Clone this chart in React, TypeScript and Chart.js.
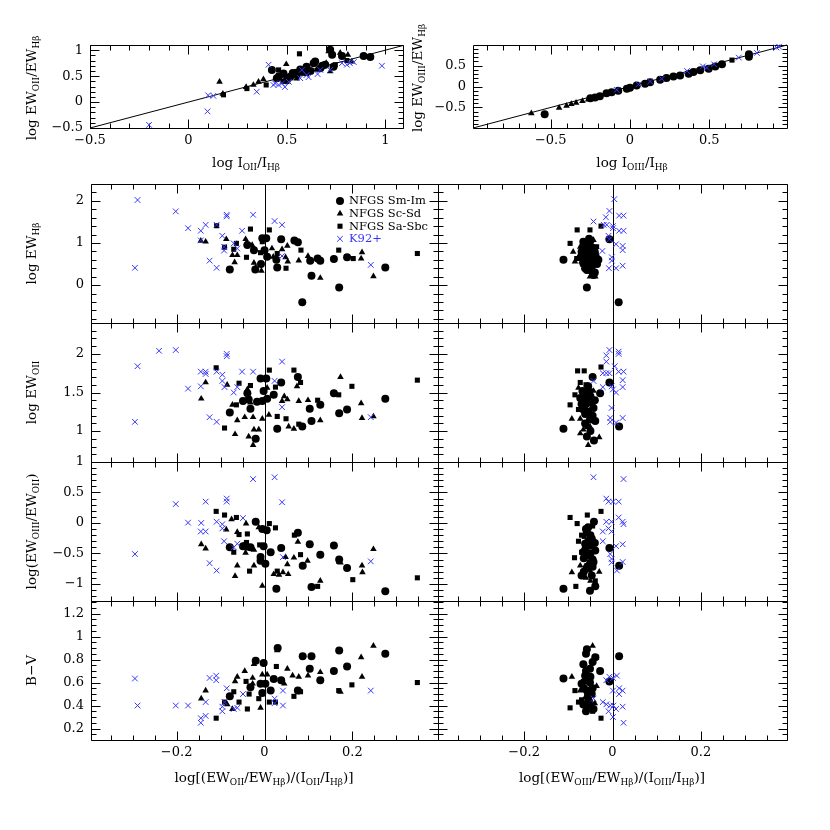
import React, { useEffect, useRef } from 'react';
import { Chart, registerables } from 'chart.js';
Chart.register(...registerables);

type P = [number, number];

// ---------- Top-left: log I_OII/I_Hb vs log EW_OII/EW_Hb ----------
const tlCircles: P[] = [[0.424,0.62],[0.449,0.46],[0.483,0.55],[0.517,0.49],[0.568,0.63],[0.60,0.68],[0.636,0.75],[0.644,0.78],[0.67,0.65],[0.695,0.72],[0.72,1.01],[0.73,0.91],[0.737,0.68],[0.78,0.89],[0.89,0.89],[0.924,0.87],[0.50,0.42],[0.55,0.52],[0.46,0.5],[0.53,0.56],[0.58,0.58],[0.62,0.6],[0.68,0.7]];
const tlTriangles: P[] = [[0.158,0.39],[0.175,0.16],[0.293,0.29],[0.33,0.33],[0.356,0.39],[0.381,0.44],[0.497,0.73],[0.534,0.55],[0.61,0.62],[0.712,0.98],[0.72,0.59],[0.771,0.95],[0.81,0.91],[0.83,0.78],[0.46,0.45],[0.65,0.62],[0.55,0.45],[0.7,0.75]];
const tlSquares: P[] = [[0.178,0.14],[0.297,0.26],[0.395,0.33],[0.458,0.62],[0.55,0.59],[0.564,0.93],[0.746,0.72],[0.805,0.80],[0.52,0.47],[0.48,0.40],[0.6,0.55]];
const tlCrosses: P[] = [[-0.20,-0.44],[0.097,-0.18],[0.10,0.13],[0.127,0.12],[0.347,0.20],[0.407,0.72],[0.432,0.33],[0.44,0.36],[0.458,0.33],[0.475,0.36],[0.49,0.29],[0.51,0.39],[0.568,0.46],[0.576,0.62],[0.60,0.52],[0.61,0.48],[0.656,0.54],[0.67,0.62],[0.72,0.62],[0.78,0.75],[0.805,0.72],[0.82,0.75],[0.84,0.77],[0.983,0.70]];

// ---------- Top-right: log I_OIII/I_Hb vs log EW_OIII/EW_Hb ----------
const trCircles: P[] = [[-0.538,-0.66],[-0.22,-0.26],[-0.19,-0.23],[-0.148,-0.16],[-0.116,-0.14],[-0.074,-0.10],[-0.02,-0.056],[0.042,0.024],[0.095,0.064],[0.127,0.10],[0.19,0.16],[0.274,0.24],[0.316,0.265],[0.37,0.305],[0.40,0.345],[0.443,0.385],[0.496,0.426],[0.538,0.48],[0.58,0.53],[0.75,0.71],[0.75,0.77],[-0.25,-0.28],[0.0,-0.03],[0.23,0.2]];
const trTriangles: P[] = [[-0.622,-0.64],[-0.447,-0.51],[-0.40,-0.46],[-0.37,-0.42],[-0.34,-0.39],[-0.30,-0.35],[-0.264,-0.31]];
const trSquares: P[] = [[-0.127,-0.15],[0.21,0.185],[0.643,0.63]];
const trCrosses: P[] = [[-0.084,-0.08],[0.053,0.05],[0.127,0.12],[0.20,0.185],[0.36,0.37],[0.46,0.48],[0.485,0.45],[0.53,0.53],[0.686,0.69],[0.80,0.80],[0.924,0.93],[0.94,0.95]];

// ---------- Row 1: log EW_Hb ----------
const r1lCircles: P[] = [[-0.079,0.37],[-0.021,0.37],[-0.008,0.5],[-0.005,1.11],[0.004,1.11],[0,0.83],[0.027,0.6],[0.029,0.42],[0.038,1.09],[0.068,1.06],[0.076,1.02],[0.104,0.58],[0.107,0.22],[0.121,0.63],[0.127,0.58],[0.158,0.62],[0.17,-0.06],[0.188,0.66],[0.086,-0.41],[0.275,0.42],[-0.024,0.83],[0.006,0.67],[-0.039,0.95]];
const r1lTriangles: P[] = [[-0.145,1.05],[-0.134,1.03],[-0.087,1.09],[-0.073,0.71],[-0.062,0.71],[-0.068,0.54],[-0.043,1.09],[-0.041,0.99],[-0.028,0.95],[-0.024,0.53],[-0.02,0.42],[-0.007,0.34],[0.017,0.87],[0.02,0.67],[0.04,0.85],[0.052,0.93],[0.053,0.56],[0.048,0.66],[0.078,0.58],[0.099,0.69],[0.127,0.17],[0.222,0.78],[0.22,0.63],[0.248,0.21]];
const r1lSquares: P[] = [[-0.109,1.41],[-0.091,0.9],[-0.07,0.85],[-0.064,0.99],[-0.041,0.66],[-0.032,1.33],[-0.005,1.03],[0.011,1.31],[-0.009,0.77],[0.049,0.4],[0.083,0.83],[0.169,0.83],[0.202,0.63],[0.348,0.75],[0.029,0.75]];
const r1lCrosses: P[] = [[-0.289,2.02],[-0.295,0.41],[-0.202,1.75],[-0.174,1.35],[-0.145,1.29],[-0.145,1.06],[-0.134,1.43],[-0.125,0.58],[-0.109,0.41],[-0.109,1.43],[-0.096,1.17],[-0.092,0.91],[-0.092,0.82],[-0.086,1.67],[-0.086,1.63],[-0.07,0.99],[-0.062,0.87],[-0.051,1.29],[-0.026,1.67],[0.023,1.52],[0.04,1.43],[0.04,0.69],[0.242,0.48]];

const r1rCircles: P[] = [[-0.111,0.60],[-0.058,-0.06],[0.014,-0.41],[-0.007,1.09],[-0.066,1.03],[-0.055,0.99],[-0.043,0.87],[-0.058,0.67],[-0.051,0.52],[-0.062,0.40],[-0.043,0.24],[-0.032,0.60],[-0.07,0.79],[-0.058,0.36],[-0.066,0.52],[-0.047,0.71],[-0.05,0.75],[-0.06,0.9],[-0.045,0.6],[-0.055,0.45],[-0.04,0.3],[-0.065,0.62],[-0.035,0.5],[-0.05,1.05],[-0.06,0.8],[-0.052,0.65],[-0.045,0.48],[-0.068,0.7],[-0.04,0.78],[-0.057,0.55],[-0.05,0.35],[-0.062,0.95],[-0.048,0.9],[-0.038,0.68],[-0.072,0.66],[-0.053,1.1]];
const r1rTriangles: P[] = [[-0.089,0.79],[-0.077,0.63],[-0.07,0.56],[-0.051,0.20],[-0.039,0.20],[-0.036,0.71],[-0.073,0.91],[-0.043,1.07],[-0.085,0.56],[-0.055,0.83],[-0.06,0.6],[-0.045,0.42],[-0.066,0.48],[-0.041,0.8]];
const r1rSquares: P[] = [[-0.080,1.31],[-0.051,1.31],[-0.096,0.99],[-0.026,1.40],[-0.081,0.63],[-0.062,0.83],[-0.036,0.91],[-0.047,0.44],[-0.055,0.7],[-0.07,0.87]];
const r1rCrosses: P[] = [[0.004,2.04],[-0.007,1.76],[-0.015,1.61],[-0.043,1.51],[-0.02,1.43],[-0.013,1.43],[0.001,1.40],[0.001,1.35],[0.015,1.65],[0.025,1.65],[0.015,1.29],[0.025,1.29],[-0.009,1.17],[-0.007,1.09],[0.008,0.97],[0.023,0.93],[0.023,0.83],[-0.023,0.81],[-0.0015,0.66],[-0.0015,0.58],[-0.008,0.40],[0.008,0.40],[0.023,0.46]];

// ---------- Row 2: log EW_OII ----------
const r2lCircles: P[] = [[-0.079,1.24],[-0.049,1.39],[-0.039,1.49],[-0.036,1.41],[-0.02,0.90],[-0.009,1.68],[0.004,1.68],[-0.002,1.52],[-0.005,1.39],[0.021,1.47],[0.029,1.03],[0.038,1.63],[0.076,1.70],[0.103,1.29],[0.107,1.13],[0.086,1.06],[0.127,1.34],[0.158,1.49],[0.17,1.23],[0.188,1.28],[0.275,1.42],[-0.032,1.29],[-0.017,1.38],[0.006,1.42]];
const r2lTriangles: P[] = [[-0.144,1.42],[-0.134,1.63],[-0.085,1.6],[-0.073,1.34],[-0.067,0.96],[-0.062,1.14],[-0.045,1.18],[-0.039,1.54],[-0.032,1.37],[-0.026,1.18],[-0.024,1.02],[-0.013,1.02],[-0.036,0.93],[-0.026,0.82],[-0.005,1.16],[0.006,1.56],[0.01,1.21],[0.04,1.39],[0.045,1.45],[0.052,1.41],[0.055,1.06],[0.067,1.03],[0.074,1.58],[0.078,1.39],[0.099,1.40],[0.127,1.14],[0.173,1.70],[0.22,1.36],[0.222,1.17],[0.248,1.19]];
const r2lSquares: P[] = [[-0.11,1.82],[-0.091,1.04],[-0.064,1.34],[-0.058,1.62],[-0.032,1.59],[0.011,1.79],[0.025,1.57],[0.029,1.19],[0.049,1.16],[0.067,1.79],[0.082,1.63],[0.078,1.09],[0.121,1.40],[0.169,1.47],[0.199,1.58],[0.348,1.66]];
const r2lCrosses: P[] = [[-0.289,1.84],[-0.295,1.12],[-0.24,2.04],[-0.202,2.05],[-0.174,1.55],[-0.145,1.58],[-0.145,1.77],[-0.134,1.77],[-0.134,1.74],[-0.125,1.18],[-0.109,1.12],[-0.109,1.77],[-0.096,1.73],[-0.096,1.65],[-0.091,1.57],[-0.086,2.0],[-0.086,1.97],[-0.07,1.5],[-0.062,1.57],[-0.051,1.77],[-0.026,1.77],[0.023,1.65],[0.04,1.9],[0.04,1.31],[0.242,1.18]];

const r2rCircles: P[] = [[-0.111,1.03],[0.015,1.06],[-0.007,1.63],[-0.045,1.70],[-0.028,1.49],[-0.042,0.88],[-0.058,1.50],[-0.047,1.37],[-0.066,1.28],[-0.051,1.15],[-0.039,1.13],[-0.058,1.41],[-0.073,1.43],[-0.055,1.58],[-0.062,1.22],[-0.043,1.30],[-0.06,1.35],[-0.05,1.45],[-0.068,1.52],[-0.055,1.25],[-0.045,1.2],[-0.062,1.1],[-0.05,1.0],[-0.058,0.93],[-0.04,1.4],[-0.07,1.35]];
const r2rTriangles: P[] = [[-0.092,1.16],[-0.073,1.16],[-0.055,0.82],[-0.030,0.92],[-0.073,0.97],[-0.077,1.56],[-0.066,1.02],[-0.043,1.52],[-0.062,1.32],[-0.051,1.06],[-0.055,1.42],[-0.048,1.3],[-0.065,1.45]];
const r2rSquares: P[] = [[-0.079,1.78],[-0.064,1.78],[-0.026,1.83],[-0.096,1.34],[-0.085,1.47],[-0.073,1.63],[-0.043,1.19],[-0.058,1.06],[-0.077,1.28],[-0.06,1.6],[-0.05,1.52]];
const r2rCrosses: P[] = [[-0.007,2.05],[0.014,2.03],[0.014,2.0],[-0.014,1.98],[-0.014,1.90],[0.005,1.84],[-0.022,1.75],[-0.014,1.75],[-0.007,1.75],[0.014,1.77],[0.025,1.77],[0.023,1.66],[-0.043,1.65],[-0.002,1.58],[0.001,1.54],[0.008,1.50],[-0.022,1.57],[0.023,1.57],[-0.002,1.30],[-0.005,1.17],[-0.005,1.12],[0.023,1.17],[0.008,1.11]];

// ---------- Row 3: log(EW_OIII/EW_OII) ----------
const r3lCircles: P[] = [[-0.079,-0.40],[-0.049,-0.38],[-0.02,0.02],[-0.005,-0.10],[0.005,-0.12],[-0.009,-0.56],[0.002,-0.67],[-0.002,-0.38],[0.014,-0.48],[0.038,-0.41],[0.027,-1.08],[0.076,-0.16],[0.103,-0.35],[0.087,-0.70],[0.107,-1.05],[0.127,-0.52],[0.158,-0.37],[0.17,-0.60],[0.188,-0.74],[0.275,-1.12],[-0.043,-0.37],[-0.032,-0.40],[-0.009,-0.62]];
const r3lTriangles: P[] = [[-0.144,-0.35],[-0.134,-0.42],[-0.087,-0.11],[-0.075,0.06],[-0.067,-0.87],[-0.062,-0.15],[-0.062,-0.70],[-0.042,-0.01],[-0.043,-0.49],[-0.039,-0.42],[-0.024,-0.44],[-0.024,-0.70],[-0.013,-0.07],[-0.005,-1.03],[0.021,-0.84],[0.033,-0.85],[0.042,-0.81],[0.054,-0.84],[0.048,-0.56],[0.052,-0.68],[0.067,-0.57],[0.076,-0.31],[0.098,-0.62],[0.127,-0.95],[0.173,-0.65],[0.222,-0.70],[0.223,-0.81],[0.248,-0.43]];
const r3lSquares: P[] = [[-0.11,0.19],[-0.091,0.13],[-0.064,0.09],[-0.058,-0.19],[-0.07,-0.48],[-0.039,-0.18],[-0.041,-0.32],[-0.034,-0.79],[0.011,-0.01],[0.025,-0.08],[-0.011,-0.36],[0.029,-0.79],[0.068,-0.20],[0.082,-0.52],[0.121,-1.04],[0.169,-0.63],[0.201,-0.93],[0.348,-0.90]];
const r3lCrosses: P[] = [[-0.295,-0.51],[-0.202,0.31],[-0.174,0.005],[-0.144,0],[-0.145,-0.14],[-0.134,-0.14],[-0.134,0.35],[-0.125,-0.66],[-0.109,-0.78],[-0.109,0.02],[-0.096,-0.02],[-0.096,-0.09],[-0.092,-0.30],[-0.086,0.40],[-0.086,0.35],[-0.07,-0.40],[-0.062,-0.34],[-0.049,0.08],[-0.026,0.72],[0.023,0.75],[0.04,0.34],[0.042,-0.56],[0.242,-0.63]];

const r3rCircles: P[] = [[-0.111,-1.08],[-0.051,-1.11],[-0.039,-1.04],[-0.007,-0.41],[0.015,-0.70],[-0.042,0.02],[-0.055,-0.07],[-0.058,-0.15],[-0.066,-0.48],[-0.055,-0.53],[-0.043,-0.64],[-0.058,-0.73],[-0.07,-0.86],[-0.047,-0.86],[-0.051,-0.37],[-0.039,-0.45],[-0.062,-0.34],[-0.047,-0.26],[-0.06,-0.4],[-0.05,-0.5],[-0.045,-0.6],[-0.065,-0.58],[-0.055,-0.3],[-0.05,-0.2],[-0.06,-0.1],[-0.045,-0.72],[-0.065,-0.8],[-0.04,-0.33]];
const r3rTriangles: P[] = [[-0.092,-0.81],[-0.030,-0.80],[-0.073,-0.70],[-0.062,-0.59],[-0.051,-0.78],[-0.043,-0.26],[-0.066,-0.42],[-0.055,-0.65],[-0.05,-0.95],[-0.06,-0.9]];
const r3rSquares: P[] = [[-0.096,0.09],[-0.080,-0.01],[-0.057,0.13],[-0.026,0.19],[-0.064,-0.22],[-0.077,-0.30],[-0.086,-0.57],[-0.083,-1.04],[-0.039,-0.95],[-0.058,-0.70],[-0.07,-0.48],[-0.07,-0.2],[-0.045,-0.05]];
const r3rCrosses: P[] = [[-0.043,0.75],[0.025,0.72],[-0.014,0.40],[-0.009,0.35],[0.001,0.35],[0.014,0.35],[0.014,0.09],[0.023,0.02],[0.025,-0.02],[-0.014,0.02],[-0.002,0.02],[-0.022,-0.14],[-0.009,-0.09],[-0.002,-0.14],[-0.022,-0.30],[0.008,-0.38],[0.023,-0.35],[-0.005,-0.51],[-0.002,-0.59],[-0.002,-0.65],[0.023,-0.64],[0.01,-0.78]];

// ---------- Row 4: B-V ----------
const r4lCircles: P[] = [[-0.079,0.48],[-0.02,0.79],[-0.002,0.77],[0.03,0.90],[-0.009,0.59],[0.002,0.59],[0.014,0.53],[0.021,0.63],[0.038,0.62],[0.076,0.53],[0.087,0.83],[0.107,0.83],[0.103,0.72],[0.127,0.62],[0.158,0.70],[0.17,0.88],[0.188,0.74],[0.275,0.85],[-0.032,0.56],[-0.005,0.51]];
const r4lTriangles: P[] = [[-0.144,0.46],[-0.134,0.53],[-0.085,0.41],[-0.073,0.37],[-0.067,0.61],[-0.062,0.65],[-0.045,0.70],[-0.027,0.64],[-0.024,0.76],[-0.009,0.38],[-0.005,0.67],[0.006,0.67],[0.029,0.88],[0.052,0.72],[0.045,0.59],[0.064,0.66],[0.078,0.65],[0.099,0.66],[0.127,0.69],[0.173,0.52],[0.22,0.82],[0.222,0.65],[0.248,0.92],[-0.027,0.59]];
const r4lSquares: P[] = [[-0.11,0.29],[-0.091,0.43],[-0.07,0.52],[-0.058,0.43],[-0.042,0.61],[-0.039,0.37],[-0.035,0.50],[-0.013,0.46],[0.011,0.43],[0.027,0.74],[0.025,0.43],[0.067,0.48],[0.082,0.52],[0.169,0.53],[0.199,0.58],[0.348,0.60]];
const r4lCrosses: P[] = [[-0.295,0.635],[-0.289,0.40],[-0.202,0.40],[-0.174,0.40],[-0.145,0.29],[-0.145,0.25],[-0.134,0.43],[-0.134,0.31],[-0.125,0.64],[-0.11,0.66],[-0.11,0.62],[-0.096,0.39],[-0.096,0.35],[-0.091,0.43],[-0.086,0.55],[-0.07,0.37],[-0.062,0.38],[-0.049,0.50],[0.023,0.46],[0.023,0.42],[0.042,0.53],[0.042,0.40],[0.242,0.53]];

const r4rCircles: P[] = [[-0.111,0.635],[0.015,0.83],[-0.058,0.89],[-0.028,0.70],[-0.066,0.76],[-0.039,0.82],[-0.051,0.72],[-0.062,0.66],[-0.07,0.59],[-0.058,0.53],[-0.047,0.50],[-0.055,0.44],[-0.066,0.41],[-0.007,0.61],[-0.051,0.60],[-0.043,0.37],[-0.06,0.7],[-0.05,0.65],[-0.045,0.55],[-0.065,0.55],[-0.055,0.48],[-0.05,0.4],[-0.06,0.35],[-0.045,0.78],[-0.06,0.85],[-0.055,0.62]];
const r4rTriangles: P[] = [[-0.045,0.92],[-0.092,0.65],[-0.058,0.37],[-0.043,0.37],[-0.073,0.53],[-0.036,0.57],[-0.062,0.47],[-0.05,0.45],[-0.065,0.6],[-0.04,0.42]];
const r4rSquares: P[] = [[-0.096,0.38],[-0.026,0.29],[-0.085,0.53],[-0.077,0.43],[-0.066,0.61],[-0.036,0.82],[-0.058,0.50],[-0.07,0.45],[-0.045,0.35]];
const r4rCrosses: P[] = [[-0.007,0.65],[0.001,0.64],[0.01,0.66],[-0.014,0.62],[0.001,0.53],[0.015,0.55],[0.023,0.53],[0.015,0.50],[-0.043,0.46],[-0.022,0.43],[-0.014,0.41],[-0.005,0.40],[0.002,0.40],[0.008,0.37],[-0.009,0.35],[0.023,0.39],[0.001,0.30],[0.025,0.25]];

// ---------- legend ----------
const legendLabels = ['NFGS Sm-Im', 'NFGS Sc-Sd', 'NFGS Sa-Sbc', 'K92+'];

// ---------- styles ----------
const BLUE = '#3535ff';
const FONT = '"DejaVu Serif"';
const R_CIRCLE = 4.0, R_TRI = 3.8, R_SQ = 3.6, R_CROSS = 4.0;

type Seg = [string, boolean];
interface Title { segs: Seg[]; x: number; y: number; rot: boolean }
interface PanelDef {
  key: string;
  box: [number, number, number, number];
  xr: [number, number]; yr: [number, number];
  xMajor: number; xMinor: number; yMajor: number; yMinor: number;
  xLabels: boolean; yLabels: boolean;
  circles: P[]; triangles: P[]; squares: P[]; crosses: P[];
  ref: 'diag' | 'vzero';
  titles: Title[];
  legend?: boolean;
}

const XL: [number, number] = [91, 438];
const XR: [number, number] = [438, 787];
const ROWS: [number, number][] = [[184, 323], [323, 462], [462, 601], [601, 740]];
const LX: [number, number] = [-0.395, 0.395];

const ewHb: Seg[] = [['log EW', false], ['Hβ', true]];
const ewOII: Seg[] = [['log EW', false], ['OII', true]];
const ratio: Seg[] = [['log(EW', false], ['OIII', true], ['/EW', false], ['OII', true], [')', false]];
const bv: Seg[] = [['B\u2212V', false]];
const bottomL: Seg[] = [['log[(EW', false], ['OII', true], ['/EW', false], ['Hβ', true], [')/(I', false], ['OII', true], ['/I', false], ['Hβ', true], [')]', false]];
const bottomR: Seg[] = [['log[(EW', false], ['OIII', true], ['/EW', false], ['Hβ', true], [')/(I', false], ['OIII', true], ['/I', false], ['Hβ', true], [')]', false]];

const lowerY = [
  { yr: [-0.9, 2.4] as [number, number], maj: 1, min: 0.2, t: ewHb },
  { yr: [0.6, 2.4] as [number, number], maj: 0.5, min: 0.1, t: ewOII },
  { yr: [-1.28, 1.0] as [number, number], maj: 0.5, min: 0.1, t: ratio },
  { yr: [0.1, 1.31] as [number, number], maj: 0.2, min: 0.05, t: bv },
];
const lowerData = [
  [r1lCircles, r1lTriangles, r1lSquares, r1lCrosses, r1rCircles, r1rTriangles, r1rSquares, r1rCrosses],
  [r2lCircles, r2lTriangles, r2lSquares, r2lCrosses, r2rCircles, r2rTriangles, r2rSquares, r2rCrosses],
  [r3lCircles, r3lTriangles, r3lSquares, r3lCrosses, r3rCircles, r3rTriangles, r3rSquares, r3rCrosses],
  [r4lCircles, r4lTriangles, r4lSquares, r4lCrosses, r4rCircles, r4rTriangles, r4rSquares, r4rCrosses],
];

const panels: PanelDef[] = [
  {
    key: 'tl', box: [90, 45, 403, 128], xr: [-0.5, 1.09], yr: [-0.5, 1.1],
    xMajor: 0.5, xMinor: 0.1, yMajor: 0.5, yMinor: 0.1, xLabels: true, yLabels: true,
    circles: tlCircles, triangles: tlTriangles, squares: tlSquares, crosses: tlCrosses, ref: 'diag',
    titles: [
      { segs: [['log I', false], ['OII', true], ['/I', false], ['Hβ', true]], x: 246, y: 162, rot: false },
      { segs: [['log EW', false], ['OII', true], ['/EW', false], ['Hβ', true]], x: 31, y: 88, rot: true },
    ],
  },
  {
    key: 'tr', box: [473, 45, 787, 128], xr: [-0.99, 0.99], yr: [-0.99, 0.99],
    xMajor: 0.5, xMinor: 0.1, yMajor: 0.5, yMinor: 0.1, xLabels: true, yLabels: true,
    circles: trCircles, triangles: trTriangles, squares: trSquares, crosses: trCrosses, ref: 'diag',
    titles: [
      { segs: [['log I', false], ['OIII', true], ['/I', false], ['Hβ', true]], x: 632, y: 162, rot: false },
      { segs: [['log EW', false], ['OIII', true], ['/EW', false], ['Hβ', true]], x: 417, y: 78, rot: true },
    ],
  },
];
ROWS.forEach((rw, i) => {
  const ly = lowerY[i];
  const d = lowerData[i];
  const last = i === ROWS.length - 1;
  panels.push({
    key: 'l' + i, box: [XL[0], rw[0], XL[1], rw[1]], xr: LX, yr: ly.yr,
    xMajor: 0.2, xMinor: 0.05, yMajor: ly.maj, yMinor: ly.min, xLabels: last, yLabels: true,
    circles: d[0], triangles: d[1], squares: d[2], crosses: d[3], ref: 'vzero',
    titles: [
      { segs: ly.t, x: 31, y: (rw[0] + rw[1]) / 2, rot: true },
      ...(last ? [{ segs: bottomL, x: 264, y: 777, rot: false }] : []),
    ],
    legend: i === 0,
  });
  panels.push({
    key: 'r' + i, box: [XR[0], rw[0], XR[1], rw[1]], xr: LX, yr: ly.yr,
    xMajor: 0.2, xMinor: 0.05, yMajor: ly.maj, yMinor: ly.min, xLabels: last, yLabels: false,
    circles: d[4], triangles: d[5], squares: d[6], crosses: d[7], ref: 'vzero',
    titles: last ? [{ segs: bottomR, x: 612, y: 777, rot: false }] : [],
  });
});

function genTicks(min: number, max: number, step: number): number[] {
  const out: number[] = [];
  const s = Math.ceil(min / step - 1e-6);
  const e = Math.floor(max / step + 1e-6);
  for (let i = s; i <= e; i++) out.push(i * step);
  return out;
}
const isMajor = (v: number, m: number) => Math.abs(v / m - Math.round(v / m)) < 1e-6;
function fmt(v: number): string {
  let r = Math.round(v * 1000) / 1000;
  if (Math.abs(r) < 1e-9) r = 0;
  return String(r).replace('-', '\u2212');
}

function drawRich(ctx: CanvasRenderingContext2D, segs: Seg[], x: number, y: number, rot: boolean, size: number) {
  const sub = size * 0.66;
  ctx.save();
  ctx.translate(x, y);
  if (rot) ctx.rotate(-Math.PI / 2);
  ctx.textAlign = 'left';
  ctx.textBaseline = 'alphabetic';
  let total = 0;
  const widths = segs.map(([t, s]) => {
    ctx.font = `${s ? sub : size}px ${FONT}`;
    const w = ctx.measureText(t).width;
    total += w;
    return w;
  });
  let cx = -total / 2;
  segs.forEach(([t, s], i) => {
    ctx.font = `${s ? sub : size}px ${FONT}`;
    ctx.fillText(t, cx, s ? size * 0.62 : size * 0.36);
    cx += widths[i];
  });
  ctx.restore();
}

function marker(ctx: CanvasRenderingContext2D, kind: number, x: number, y: number) {
  ctx.beginPath();
  if (kind === 0) {
    ctx.arc(x, y, R_CIRCLE, 0, Math.PI * 2);
    ctx.fillStyle = '#000'; ctx.fill();
  } else if (kind === 1) {
    for (let k = 0; k < 3; k++) {
      const a = (k * 2 * Math.PI) / 3;
      const px = x + Math.sin(a) * R_TRI, py = y - Math.cos(a) * R_TRI;
      if (k === 0) ctx.moveTo(px, py); else ctx.lineTo(px, py);
    }
    ctx.closePath(); ctx.fillStyle = '#000'; ctx.fill();
  } else if (kind === 2) {
    const h = R_SQ * Math.SQRT1_2;
    ctx.rect(x - h, y - h, 2 * h, 2 * h);
    ctx.fillStyle = '#000'; ctx.fill();
  } else {
    const h = R_CROSS * Math.SQRT1_2;
    ctx.moveTo(x - h, y - h); ctx.lineTo(x + h, y + h);
    ctx.moveTo(x + h, y - h); ctx.lineTo(x - h, y + h);
    ctx.strokeStyle = BLUE; ctx.lineWidth = 1; ctx.stroke();
  }
}

function makePlugin(p: PanelDef) {
  return {
    id: 'sm_' + p.key,
    beforeDatasetsDraw(chart: any) {
      const ctx: CanvasRenderingContext2D = chart.ctx;
      const a = chart.chartArea;
      const xs = chart.scales.x, ys = chart.scales.y;
      const L = Math.round(a.left) + 0.5, R = Math.round(a.right) + 0.5;
      const T = Math.round(a.top) + 0.5, B = Math.round(a.bottom) + 0.5;
      ctx.save();
      ctx.strokeStyle = '#000';
      ctx.lineWidth = 1;
      ctx.beginPath();
      if (p.ref === 'diag') {
        const lo = Math.max(p.xr[0], p.yr[0]), hi = Math.min(p.xr[1], p.yr[1]);
        ctx.moveTo(xs.getPixelForValue(lo), ys.getPixelForValue(lo));
        ctx.lineTo(xs.getPixelForValue(hi), ys.getPixelForValue(hi));
      } else {
        const x0 = Math.round(xs.getPixelForValue(0)) + 0.5;
        ctx.moveTo(x0, T); ctx.lineTo(x0, B);
      }
      ctx.stroke();
      ctx.beginPath();
      ctx.moveTo(L, T); ctx.lineTo(R, T); ctx.lineTo(R, B); ctx.lineTo(L, B); ctx.closePath();
      ctx.stroke();
      ctx.beginPath();
      for (const v of genTicks(p.xr[0], p.xr[1], p.xMinor)) {
        const px = Math.round(xs.getPixelForValue(v)) + 0.5;
        const len = isMajor(v, p.xMajor) ? 9 : 5;
        ctx.moveTo(px, B); ctx.lineTo(px, B - len);
        ctx.moveTo(px, T); ctx.lineTo(px, T + len);
      }
      for (const v of genTicks(p.yr[0], p.yr[1], p.yMinor)) {
        const py = Math.round(ys.getPixelForValue(v)) + 0.5;
        const len = isMajor(v, p.yMajor) ? 9 : 5;
        ctx.moveTo(L, py); ctx.lineTo(L + len, py);
        ctx.moveTo(R, py); ctx.lineTo(R - len, py);
      }
      ctx.stroke();
      ctx.restore();
    },
    afterDraw(chart: any) {
      const ctx: CanvasRenderingContext2D = chart.ctx;
      const a = chart.chartArea;
      const xs = chart.scales.x, ys = chart.scales.y;
      ctx.save();
      ctx.fillStyle = '#000';
      ctx.font = `13px ${FONT}`;
      if (p.xLabels) {
        ctx.textAlign = 'center'; ctx.textBaseline = 'middle';
        for (const v of genTicks(p.xr[0], p.xr[1], p.xMajor)) {
          ctx.fillText(fmt(v), xs.getPixelForValue(v), a.bottom + 13);
        }
      }
      if (p.yLabels) {
        ctx.textAlign = 'right'; ctx.textBaseline = 'middle';
        for (const v of genTicks(p.yr[0], p.yr[1], p.yMajor)) {
          ctx.fillText(fmt(v), a.left - 7, ys.getPixelForValue(v));
        }
      }
      for (const t of p.titles) drawRich(ctx, t.segs, t.x, t.y, t.rot, 13.5);
      if (p.legend) {
        const mx = 340, tx = 349, y0 = 201, dy = 12.6;
        legendLabels.forEach((lab, k) => {
          const y = y0 + k * dy;
          marker(ctx, k, mx, y);
          ctx.font = `11.5px ${FONT}`;
          ctx.textAlign = 'left'; ctx.textBaseline = 'middle';
          ctx.fillStyle = k === 3 ? BLUE : '#000';
          ctx.fillText(lab, tx, y + 0.5);
        });
      }
      ctx.restore();
    },
  };
}

function makeConfig(p: PanelDef): any {
  const toPts = (arr: P[]) => arr.map(([x, y]) => ({ x, y }));
  const W = 830, H = 830;
  return {
    type: 'scatter',
    data: {
      datasets: [
        { label: 'K92+', data: toPts(p.crosses), pointStyle: 'crossRot', pointRadius: R_CROSS, borderColor: BLUE, backgroundColor: BLUE, borderWidth: 1, clip: false },
        { label: 'NFGS Sm-Im', data: toPts(p.circles), pointStyle: 'circle', pointRadius: R_CIRCLE, backgroundColor: '#000', borderColor: '#000', borderWidth: 0, clip: false },
        { label: 'NFGS Sc-Sd', data: toPts(p.triangles), pointStyle: 'triangle', pointRadius: R_TRI, backgroundColor: '#000', borderColor: '#000', borderWidth: 0, clip: false },
        { label: 'NFGS Sa-Sbc', data: toPts(p.squares), pointStyle: 'rect', pointRadius: R_SQ, backgroundColor: '#000', borderColor: '#000', borderWidth: 0, clip: false },
      ],
    },
    options: {
      animation: false,
      responsive: false,
      maintainAspectRatio: false,
      devicePixelRatio: 1,
      events: [],
      layout: {
        autoPadding: false,
        padding: { left: p.box[0], top: p.box[1], right: W - p.box[2], bottom: H - p.box[3] },
      },
      plugins: { legend: { display: false }, tooltip: { enabled: false }, title: { display: false } },
      scales: {
        x: { type: 'linear', min: p.xr[0], max: p.xr[1], display: false },
        y: { type: 'linear', min: p.yr[0], max: p.yr[1], display: false },
      },
    },
    plugins: [makePlugin(p)],
  };
}

function Panel({ p }: { p: PanelDef }) {
  const ref = useRef<HTMLCanvasElement>(null);
  useEffect(() => {
    if (!ref.current) return;
    const chart = new Chart(ref.current, makeConfig(p));
    return () => chart.destroy();
  }, [p]);
  return (
    <canvas
      ref={ref}
      width={830}
      height={830}
      style={{ position: 'absolute', left: 0, top: 0, width: 830, height: 830 }}
    />
  );
}

export default function App() {
  return (
    <div style={{ position: 'fixed', left: 0, top: 0, width: 830, height: 830, background: '#fff' }}>
      {panels.map((p) => (
        <Panel key={p.key} p={p} />
      ))}
    </div>
  );
}
